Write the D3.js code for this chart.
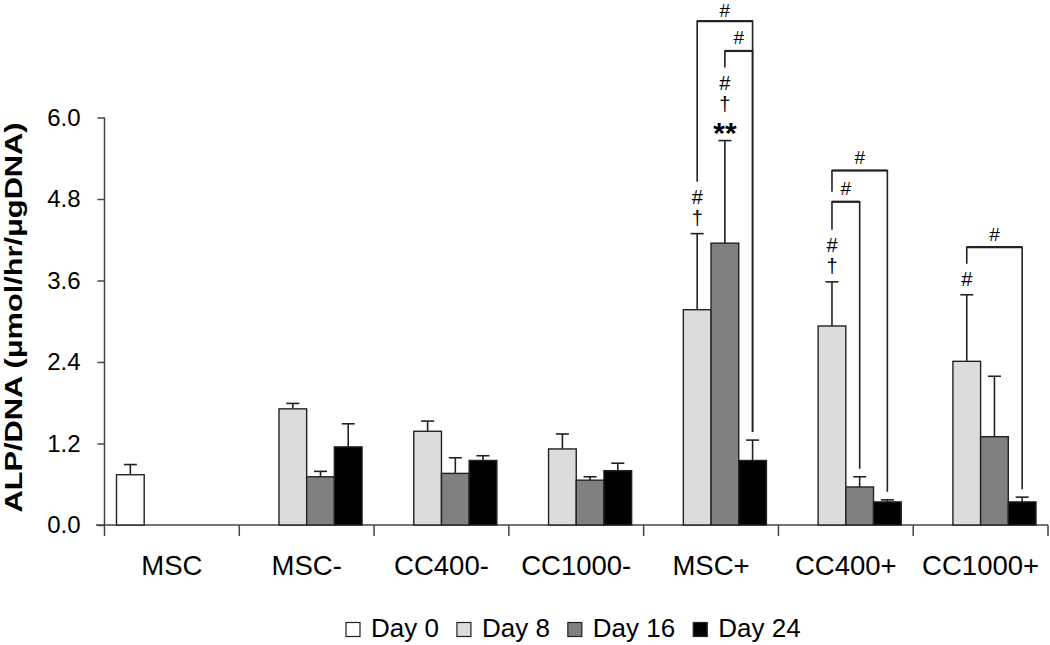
<!DOCTYPE html>
<html>
<head>
<meta charset="utf-8">
<script src="https://cdn.jsdelivr.net/npm/d3@7"></script>
<style>
  html, body { margin: 0; padding: 0; background: #fff; }
  svg { display: block; }
  text { font-family: "Liberation Sans", Arial, sans-serif; fill: #000; }
</style>
</head>
<body>
<svg id="chart" width="1050" height="645"></svg>
<script>
// ---------- data ----------
const categories = ["MSC", "MSC-", "CC400-", "CC1000-", "MSC+", "CC400+", "CC1000+"];
const seriesNames = ["Day 0", "Day 8", "Day 16", "Day 24"];
const seriesColors = ["#ffffff", "#dcdcdc", "#808080", "#000000"];

const day0  = [0.74, null, null, null, null, null, null];
const day8  = [null, 1.71, 1.38, 1.12, 3.17, 2.93, 2.41];
const day16 = [null, 0.71, 0.76, 0.66, 4.15, 0.56, 1.30];
const day24 = [null, 1.15, 0.95, 0.80, 0.95, 0.34, 0.34];

const err0  = [0.15, null, null, null, null, null, null];
const err8  = [null, 0.08, 0.15, 0.22, 1.12, 0.65, 0.98];
const err16 = [null, 0.08, 0.23, 0.05, 1.51, 0.15, 0.89];
const err24 = [null, 0.34, 0.07, 0.11, 0.30, 0.03, 0.07];

const yTicks = [0, 1.2, 2.4, 3.6, 4.8, 6.0];
const yTitle = "ALP/DNA (\u03bcmol/hr/\u03bcgDNA)";

// significance symbols stacked above a bar (bottom to top)
const barMarks = [
  { cat: "MSC+",    series: "Day 8",  symbols: ["\u2020", "#"] },
  { cat: "MSC+",    series: "Day 16", symbols: ["**", "\u2020", "#"] },
  { cat: "CC400+",  series: "Day 8",  symbols: ["\u2020", "#"] },
  { cat: "CC1000+", series: "Day 8",  symbols: ["#"] }
];
// comparison brackets (level = y value of the bracket bar)
const brackets = [
  { cat: "MSC+",    from: "Day 8",  to: "Day 24", level: 7.42, label: "#" },
  { cat: "MSC+",    from: "Day 16", to: "Day 24", level: 6.98, label: "#" },
  { cat: "CC400+",  from: "Day 8",  to: "Day 24", level: 5.22, label: "#" },
  { cat: "CC400+",  from: "Day 8",  to: "Day 16", level: 4.76, label: "#" },
  { cat: "CC1000+", from: "Day 8",  to: "Day 24", level: 4.09, label: "#" }
];

// ---------- build ----------
const values = [day0, day8, day16, day24];
const errors = [err0, err8, err16, err24];
const rows = [];
categories.forEach((c, ci) => {
  seriesNames.forEach((s, si) => {
    if (values[si][ci] != null) rows.push({ cat: c, series: s, si, value: values[si][ci], err: errors[si][ci] });
  });
});
const rowOf = (c, s) => rows.find(r => r.cat === c && r.series === s);

const svg = d3.select("#chart");
const axisColor = "#444";

const x = d3.scaleBand().domain(categories).range([104.5, 1048]).paddingInner(0).paddingOuter(0);
const bw = x.bandwidth();
const xs = d3.scaleBand().domain(seriesNames).range([12, bw - 12]).padding(0);
const y = d3.scaleLinear().domain([0, 6]).range([525, 117.5]);

const cx = (c, s) => x(c) + xs(s) + xs.bandwidth() / 2;
const errTop = r => y(r.value + (r.err || 0));

// y axis
const yAxis = d3.axisLeft(y).tickValues(yTicks).tickFormat(d3.format(".1f")).tickSize(7).tickPadding(17).tickSizeOuter(0);
const gy = svg.append("g").attr("transform", "translate(104.5,0)").call(yAxis);
gy.select(".domain").remove();
gy.selectAll(".tick line").attr("stroke", axisColor).attr("stroke-width", 1.5);
gy.selectAll(".tick text").style("font-size", "24px").attr("fill", "#000");
svg.append("line").attr("x1", 104.5).attr("x2", 104.5).attr("y1", y(6)).attr("y2", 536)
  .attr("stroke", axisColor).attr("stroke-width", 1.5);

// x axis
const xAxis = d3.axisBottom(x).tickSize(0).tickPadding(30.5);
const gx = svg.append("g").attr("transform", "translate(0,525)").call(xAxis);
gx.select(".domain").remove();
gx.selectAll(".tick text").style("font-size", "27.5px").attr("fill", "#000");
svg.append("line").attr("x1", 96).attr("x2", 1048).attr("y1", 525).attr("y2", 525)
  .attr("stroke", axisColor).attr("stroke-width", 1.5);
svg.append("g").selectAll("line").data(categories.slice(1).concat(["__end"])).join("line")
  .attr("x1", d => d === "__end" ? x.range()[1] : x(d))
  .attr("x2", d => d === "__end" ? x.range()[1] : x(d))
  .attr("y1", 525).attr("y2", 536)
  .attr("stroke", axisColor).attr("stroke-width", 1.5);

// y title
svg.append("text")
  .attr("transform", `translate(21.5,${(122 + 513) / 2}) rotate(-90)`)
  .attr("text-anchor", "middle")
  .attr("textLength", 390).attr("lengthAdjust", "spacingAndGlyphs")
  .style("font-size", "23.5px").style("font-weight", "bold")
  .text(yTitle);

// error bars
const eg = svg.append("g").attr("stroke", "#222").attr("stroke-width", 1.6);
rows.filter(r => r.err).forEach(r => {
  const xc = cx(r.cat, r.series);
  eg.append("line").attr("x1", xc).attr("x2", xc).attr("y1", y(r.value)).attr("y2", errTop(r));
  eg.append("line").attr("x1", xc - 6.5).attr("x2", xc + 6.5).attr("y1", errTop(r)).attr("y2", errTop(r));
});

// bars
svg.append("g").selectAll("rect").data(rows).join("rect")
  .attr("x", d => x(d.cat) + xs(d.series))
  .attr("width", xs.bandwidth())
  .attr("y", d => y(d.value))
  .attr("height", d => y(0) - y(d.value))
  .attr("fill", d => seriesColors[d.si])
  .attr("stroke", "#222").attr("stroke-width", 1.4);

// significance symbols on bars
const firstOff = 16, stepOff = 21;
const topSymbolY = {};
const ag = svg.append("g");
barMarks.forEach(m => {
  const r = rowOf(m.cat, m.series);
  const xc = cx(m.cat, m.series);
  m.symbols.forEach((s, i) => {
    const yc = errTop(r) - firstOff - i * stepOff;
    const t = ag.append("text").attr("x", xc).attr("y", yc)
      .attr("text-anchor", "middle").attr("dominant-baseline", "central").text(s);
    if (s === "**") t.style("font-size", "30px").style("font-weight", "bold").attr("dy", "0.28em");
    else t.style("font-size", "20px");
    topSymbolY[m.cat + "|" + m.series] = yc;
  });
});

// brackets
const bg = svg.append("g").attr("stroke", "#222").attr("fill", "none");
brackets.forEach(b => {
  const x1 = cx(b.cat, b.from), x2 = cx(b.cat, b.to);
  const yt = y(b.level);
  const lower = brackets.filter(o => o !== b && o.cat === b.cat && o.from === b.from && o.level < b.level);
  let yl;
  if (lower.length) yl = y(d3.max(lower, o => o.level)) - 10;
  else {
    const k = b.cat + "|" + b.from;
    yl = (topSymbolY[k] != null ? topSymbolY[k] : errTop(rowOf(b.cat, b.from))) - 15;
  }
  const yr = errTop(rowOf(b.cat, b.to)) - 8;
  bg.append("path").attr("d", `M${x1},${yl}V${yt}H${x2}V${yr}`).attr("stroke-width", 1.6);
  bg.append("line").attr("x1", x1).attr("x2", x2).attr("y1", yt).attr("y2", yt).attr("stroke-width", 2.2);
  svg.append("text").attr("x", (x1 + x2) / 2).attr("y", Math.max(yt - 13, 10))
    .attr("text-anchor", "middle").attr("dominant-baseline", "central")
    .style("font-size", "19px").text(b.label);
});

// legend
const lg = svg.append("g");
let lx = 346;
seriesNames.forEach((s, i) => {
  lg.append("rect").attr("x", lx).attr("y", 622.5).attr("width", 14).attr("height", 14)
    .attr("fill", seriesColors[i]).attr("stroke", "#222").attr("stroke-width", 1.2);
  const t = lg.append("text").attr("x", lx + 25).attr("y", 636.5).style("font-size", "26px").text(s);
  lx += 25 + t.node().getComputedTextLength() + 18;
});
</script>
</body>
</html>
